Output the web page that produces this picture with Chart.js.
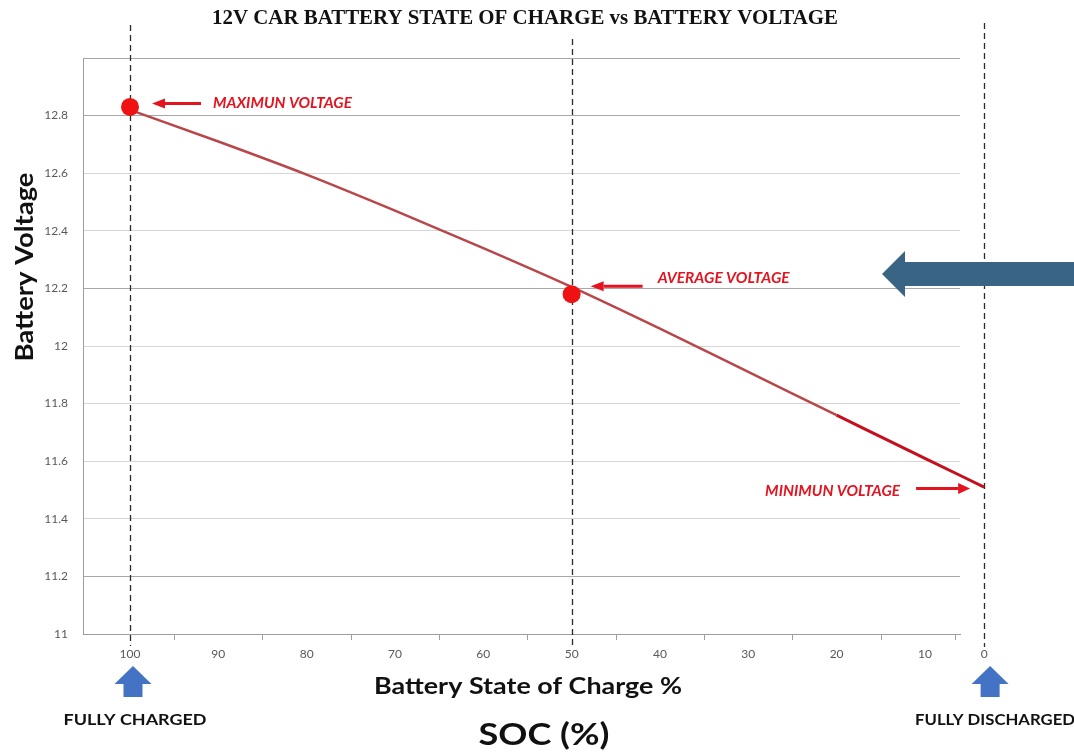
<!DOCTYPE html>
<html>
<head>
<meta charset="utf-8">
<title>12V Car Battery State of Charge vs Battery Voltage</title>
<script src="https://cdn.jsdelivr.net/npm/chart.js@4/dist/chart.umd.min.js"></script>
<style>
  html, body { margin: 0; padding: 0; background: #ffffff; }
  #wrap { width: 1074px; height: 752px; position: relative; }
</style>
</head>
<body>
<div id="wrap"><canvas id="soc" width="1074" height="752"></canvas></div>
<script>
// State of charge (%) and resting voltage (V) of a 12 V lead-acid car battery
const socLevels    = [100, 90, 80, 70, 60, 50, 40, 30, 20, 10, 0];
const batteryVolts = [12.82, 12.71, 12.595, 12.47, 12.34, 12.205, 12.06, 11.91, 11.76, 11.61, 11.51];

// Highlighted reference points (full charge and half charge)
const markerSoc   = [100, 50];
const markerVolts = [12.83, 12.18];

// Axis ticks
const socTicks        = [100, 90, 80, 70, 60, 50, 40, 30, 20, 10, 0];
const socTickLabels   = ['100', '90', '80', '70', '60', '50', '40', '30', '20', '10', '0'];
const socTickMarks    = [95, 85, 75, 65, 55, 45, 35, 25, 15, 5];
const voltTicks       = [11, 11.2, 11.4, 11.6, 11.8, 12, 12.2, 12.4, 12.6, 12.8, 13];
const voltTickLabels  = ['11', '11.2', '11.4', '11.6', '11.8', '12', '12.2', '12.4', '12.6', '12.8', ''];
const strongGridVolts = [11.2, 12.2, 12.8, 13];

// Text
const chartTitle   = '12V CAR BATTERY STATE OF CHARGE vs BATTERY VOLTAGE';
const yTitle       = 'Battery Voltage';
const xTitle       = 'Battery State of Charge %';
const socCaption   = 'SOC (%)';
const fullLabel    = 'FULLY CHARGED';
const emptyLabel   = 'FULLY DISCHARGED';
const maxNote      = 'MAXIMUN VOLTAGE';
const avgNote      = 'AVERAGE VOLTAGE';
const minNote      = 'MINIMUN VOLTAGE';

// The last decade (10 % -> 0 %) sits closer to its neighbour on the printed axis,
// so the SOC scale compresses values below the knee.
const KNEE = 10;
const SQUEEZE = 0.67;
const BaseLinear = Chart.LinearScale || Chart.registry.getScale('linear');
class SocScale extends BaseLinear {
  getPixelForValue(value) {
    const v = value < KNEE ? KNEE - (KNEE - value) * SQUEEZE : value;
    return super.getPixelForValue(v);
  }
  getValueForPixel(pixel) {
    const v = super.getValueForPixel(pixel);
    return v < KNEE ? KNEE - (KNEE - v) / SQUEEZE : v;
  }
}
SocScale.id = 'soc';
SocScale.defaults = BaseLinear.defaults;
Chart.register(SocScale);

const RED_TEXT = '#e3141f';
const LINE_COLOR = '#b8474a';
const LINE_END_COLOR = '#c4101c';

// Draw text stretched/condensed to a given width
function fitText(ctx, text, x, y, font, width, align) {
  ctx.save();
  ctx.font = font;
  ctx.textAlign = align || 'center';
  ctx.textBaseline = 'alphabetic';
  const w = ctx.measureText(text).width;
  const sx = width / w;
  ctx.translate(x, y);
  ctx.scale(sx, 1);
  ctx.fillText(text, 0, 0);
  ctx.restore();
  return sx;
}

function redArrow(ctx, xTail, xTip, y, headLen, headHalf, thick) {
  const dir = xTip > xTail ? 1 : -1;
  const base = xTip - dir * headLen;
  ctx.save();
  ctx.strokeStyle = RED_TEXT;
  ctx.fillStyle = RED_TEXT;
  ctx.lineWidth = thick;
  ctx.beginPath();
  ctx.moveTo(xTail, y);
  ctx.lineTo(base, y);
  ctx.stroke();
  ctx.beginPath();
  ctx.moveTo(xTip, y);
  ctx.lineTo(base, y - headHalf);
  ctx.lineTo(base, y + headHalf);
  ctx.closePath();
  ctx.fill();
  ctx.restore();
}

function upArrow(ctx, cx, tipY, headBaseY, bottomY, headHalf, shaftHalf, color) {
  ctx.save();
  ctx.fillStyle = color;
  ctx.beginPath();
  ctx.moveTo(cx, tipY);
  ctx.lineTo(cx + headHalf, headBaseY);
  ctx.lineTo(cx + shaftHalf, headBaseY);
  ctx.lineTo(cx + shaftHalf, bottomY);
  ctx.lineTo(cx - shaftHalf, bottomY);
  ctx.lineTo(cx - shaftHalf, headBaseY);
  ctx.lineTo(cx - headHalf, headBaseY);
  ctx.closePath();
  ctx.fill();
  ctx.restore();
}

const decorations = {
  id: 'decorations',
  beforeDatasetsDraw(chart) {
    const ctx = chart.ctx;
    const xs = chart.scales.x;
    // dashed guides at full, half and empty charge
    const guides = [[100, 25, 646], [50, 39, 646], [0, 23, 647]];
    ctx.save();
    ctx.strokeStyle = '#2b2b2b';
    ctx.lineWidth = 1.3;
    ctx.setLineDash([6, 4]);
    guides.forEach(([v, top, bottom]) => {
      const x = Math.round(xs.getPixelForValue(v)) + 0.5;
      ctx.beginPath();
      ctx.moveTo(x, top);
      ctx.lineTo(x, bottom);
      ctx.stroke();
    });
    ctx.restore();

    // small category tick marks under the axis
    ctx.save();
    ctx.strokeStyle = '#a0a0a0';
    ctx.lineWidth = 1;
    const yb = chart.chartArea.bottom;
    socTickMarks.forEach(v => {
      const x = Math.round(xs.getPixelForValue(v)) + 0.5;
      ctx.beginPath();
      ctx.moveTo(x, yb);
      ctx.lineTo(x, yb + 6);
      ctx.stroke();
    });
    ctx.restore();
  },
  afterDatasetsDraw(chart) {
    const ctx = chart.ctx;
    const xs = chart.scales.x, ys = chart.scales.y;
    const noteFont = 'italic bold 16px Lato, "Open Sans", sans-serif';
    ctx.fillStyle = RED_TEXT;

    // maximum voltage
    const mx = xs.getPixelForValue(markerSoc[0]);
    const my = ys.getPixelForValue(markerVolts[0]);
    redArrow(ctx, mx + 71, mx + 22, my - 3.5, 13, 5, 3);
    ctx.fillStyle = RED_TEXT;
    fitText(ctx, maxNote, mx + 83, my + 1, noteFont, 139, 'left');

    // average voltage
    const ax = xs.getPixelForValue(markerSoc[1]);
    const ay = ys.getPixelForValue(markerVolts[1]);
    redArrow(ctx, ax + 71, ax + 19, ay - 8, 13, 5, 3);
    ctx.fillStyle = RED_TEXT;
    fitText(ctx, avgNote, ax + 86, ay - 11, noteFont, 132, 'left');

    // minimum voltage
    const ex = xs.getPixelForValue(socLevels[socLevels.length - 1]);
    const ey = ys.getPixelForValue(batteryVolts[batteryVolts.length - 1]);
    redArrow(ctx, ex - 68, ex - 14, ey + 1.5, 12, 5.5, 3);
    ctx.fillStyle = RED_TEXT;
    fitText(ctx, minNote, ex - 84, ey + 9, noteFont, 135, 'right');
  },
  afterDraw(chart) {
    const ctx = chart.ctx;
    const xs = chart.scales.x;
    ctx.save();
    ctx.fillStyle = '#111111';
    // title
    fitText(ctx, chartTitle, 525, 24, 'bold 20px "Liberation Serif", "Times New Roman", serif', 626, 'center');
    // y axis title
    ctx.save();
    ctx.translate(33, 267);
    ctx.rotate(-Math.PI / 2);
    fitText(ctx, yTitle, 0, 0, 'bold 25px Lato, "Open Sans", sans-serif', 189, 'center');
    ctx.restore();
    // x axis title and caption
    fitText(ctx, xTitle, 528, 694, 'bold 22px Lato, "Open Sans", sans-serif', 308, 'center');
    fitText(ctx, socCaption, 544, 745, 'bold 30px Lato, "Open Sans", sans-serif', 131, 'center');
    // end labels
    const endFont = 'bold 15px Lato, "Open Sans", sans-serif';
    fitText(ctx, fullLabel, 135, 725, endFont, 143, 'center');
    fitText(ctx, emptyLabel, 915, 725, endFont, 160, 'left');
    ctx.restore();

    // blue markers under the full / empty positions
    const blue = '#4472c4';
    upArrow(ctx, xs.getPixelForValue(100) + 3, 666, 684, 697, 18.5, 9.5, blue);
    upArrow(ctx, xs.getPixelForValue(0) + 6, 666, 684, 697, 18.5, 9.5, blue);

    // large pointer at the average band
    ctx.save();
    ctx.fillStyle = '#3a6483';
    ctx.beginPath();
    ctx.moveTo(882, 274);
    ctx.lineTo(905, 251);
    ctx.lineTo(905, 262);
    ctx.lineTo(1074, 262);
    ctx.lineTo(1074, 286);
    ctx.lineTo(905, 286);
    ctx.lineTo(905, 297);
    ctx.closePath();
    ctx.fill();
    ctx.restore();
  }
};

const tickFont = { family: 'Lato, "Open Sans", sans-serif', size: 12 };

new Chart(document.getElementById('soc'), {
  type: 'line',
  data: {
    datasets: [
      {
        label: 'Markers',
        data: markerSoc.map((s, i) => ({ x: s, y: markerVolts[i] })),
        showLine: false,
        pointRadius: 9,
        pointHoverRadius: 9,
        pointBackgroundColor: '#ee1212',
        pointBorderWidth: 0,
        clip: false,
        order: 0
      },
      {
        label: 'Battery voltage',
        data: socLevels.map((s, i) => ({ x: s, y: batteryVolts[i] })),
        borderColor: LINE_COLOR,
        borderWidth: 2.5,
        pointRadius: 0,
        cubicInterpolationMode: 'monotone',
        fill: false,
        clip: false,
        order: 1,
        segment: {
          borderColor: c => (c.p0.parsed.x <= 20 ? LINE_END_COLOR : LINE_COLOR),
          borderWidth: c => (c.p0.parsed.x <= 20 ? 3 : 2.5)
        }
      }
    ]
  },
  options: {
    responsive: false,
    animation: false,
    events: [],
    layout: { padding: { top: 58, right: 114, left: 0, bottom: 0 } },
    plugins: {
      legend: { display: false },
      title: { display: false },
      tooltip: { enabled: false }
    },
    scales: {
      x: {
        type: 'soc',
        reverse: true,
        bounds: 'data',
        min: 6.03,
        max: 105.32,
        grid: { display: false, drawTicks: false },
        border: { display: true, color: '#9d9d9d', width: 1 },
        ticks: {
          autoSkip: false,
          maxRotation: 0,
          padding: 13,
          color: '#595959',
          font: tickFont,
          callback: (v, i) => socTickLabels[i]
        },
        afterBuildTicks: s => { s.ticks = socTicks.map(v => ({ value: v })); },
        afterFit: s => { s.height = 118; s.paddingLeft = 0; s.paddingRight = 0; }
      },
      y: {
        type: 'linear',
        min: 11,
        max: 13,
        grid: {
          drawTicks: false,
          lineWidth: 1,
          color: c => {
            const v = c.tick ? c.tick.value : 0;
            return strongGridVolts.some(s => Math.abs(s - v) < 1e-6) ? '#a8a8a8' : '#d6d6d6';
          }
        },
        border: { display: true, color: '#9d9d9d', width: 1 },
        ticks: {
          padding: 15,
          color: '#595959',
          font: tickFont,
          callback: (v, i) => voltTickLabels[i]
        },
        afterBuildTicks: s => { s.ticks = voltTicks.map(v => ({ value: v })); },
        afterFit: s => { s.width = 83; s.paddingTop = 0; s.paddingBottom = 0; }
      }
    }
  },
  plugins: [decorations]
});
</script>
</body>
</html>
